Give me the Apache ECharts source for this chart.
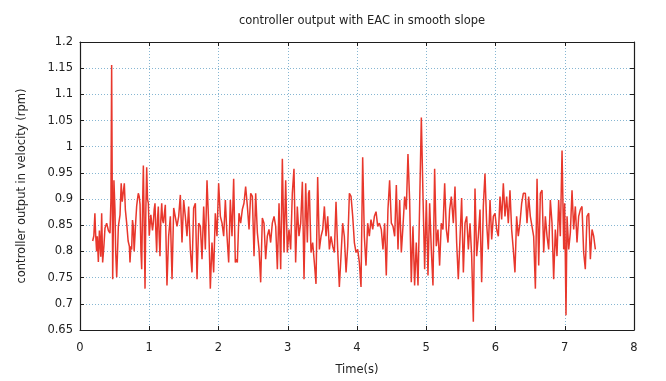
<!DOCTYPE html>
<html>
<head>
<meta charset="utf-8">
<script src="https://cdn.jsdelivr.net/npm/echarts@6/dist/echarts.min.js"></script>
<style>
  html, body { margin: 0; padding: 0; background: #fff; }
  #chart { width: 666px; height: 381px; }
</style>
</head>
<body>
<div id="chart"></div>
<script>
// sample times (s)
const times = [
  0.183, 0.200, 0.215, 0.225, 0.240, 0.250, 0.265, 0.280, 0.300, 0.313, 0.327, 0.345, 0.361, 0.385, 0.410, 0.433,
  0.447, 0.457, 0.472, 0.490, 0.505, 0.515, 0.530, 0.554, 0.578, 0.595, 0.610, 0.626, 0.640, 0.655, 0.674, 0.695,
  0.713, 0.722, 0.735, 0.746, 0.758, 0.770, 0.782, 0.794, 0.806, 0.818, 0.830, 0.842, 0.855, 0.867, 0.880, 0.891,
  0.903, 0.915, 0.927, 0.939, 0.951, 0.963, 0.975, 0.987, 1.000, 1.011, 1.023, 1.035, 1.047, 1.059, 1.071, 1.083,
  1.095, 1.107, 1.119, 1.131, 1.143, 1.155, 1.167, 1.180, 1.192, 1.204,
  1.232, 1.256, 1.280, 1.305, 1.329, 1.353, 1.377, 1.401, 1.425, 1.449, 1.473, 1.497, 1.521, 1.545, 1.569, 1.593,
  1.617, 1.641, 1.666, 1.690, 1.714, 1.738, 1.762, 1.786, 1.810, 1.834, 1.858, 1.882, 1.906, 1.930, 1.954, 1.978,
  2.002, 2.027, 2.051, 2.075, 2.099, 2.123, 2.147, 2.171, 2.195, 2.219, 2.243,
  2.255, 2.272, 2.296, 2.320, 2.344, 2.368, 2.392, 2.417, 2.441, 2.465, 2.489, 2.513, 2.537, 2.561, 2.585, 2.609,
  2.633, 2.657, 2.681, 2.705, 2.729, 2.753, 2.777, 2.802, 2.826, 2.850, 2.874, 2.898, 2.922, 2.946, 2.970, 2.994,
  3.018, 3.042, 3.066, 3.090, 3.114, 3.138, 3.162, 3.187, 3.211, 3.235, 3.259, 3.283,
  3.300, 3.312, 3.336, 3.360, 3.384, 3.408, 3.432, 3.457, 3.481, 3.505, 3.529, 3.553, 3.577, 3.601, 3.625, 3.649,
  3.673, 3.697, 3.721, 3.745, 3.769, 3.793, 3.817, 3.842, 3.866, 3.890, 3.914, 3.938, 3.962, 3.986, 4.010, 4.034,
  4.058, 4.082, 4.106, 4.130, 4.154, 4.178, 4.202, 4.227, 4.251, 4.275, 4.299, 4.323,
  4.351, 4.375, 4.399, 4.423, 4.447, 4.471, 4.496, 4.520, 4.544, 4.568, 4.592, 4.616, 4.640, 4.664, 4.688, 4.712,
  4.736, 4.760, 4.784, 4.808, 4.832, 4.856, 4.881, 4.905, 4.929, 4.953, 4.977, 5.001, 5.025, 5.049, 5.073, 5.097,
  5.121, 5.145, 5.169, 5.193, 5.217, 5.241, 5.266, 5.290, 5.314, 5.338, 5.362,
  5.391, 5.415, 5.439, 5.463, 5.487, 5.511, 5.536, 5.560, 5.584, 5.608, 5.632, 5.656, 5.680, 5.704, 5.728, 5.752,
  5.776, 5.800, 5.824, 5.848, 5.872, 5.896, 5.921, 5.945, 5.969, 5.993, 6.017, 6.041, 6.065, 6.089, 6.113, 6.137,
  6.161, 6.185, 6.209, 6.233, 6.257, 6.281, 6.305, 6.329, 6.353, 6.378, 6.402,
  6.431, 6.455, 6.479, 6.503, 6.527, 6.551, 6.576, 6.600, 6.624, 6.648, 6.672, 6.696, 6.720, 6.744, 6.768, 6.792,
  6.816, 6.840, 6.864, 6.888, 6.912, 6.936, 6.961, 6.985, 6.999, 7.018, 7.033, 7.057, 7.081, 7.105, 7.129, 7.153,
  7.177, 7.201, 7.225, 7.249, 7.273, 7.297, 7.321, 7.346, 7.370, 7.394, 7.418, 7.442
]

// controller output (rpm)
const output = [
  0.820, 0.830, 0.873, 0.835, 0.800, 0.829, 0.780, 0.840, 0.790, 0.873, 0.779, 0.810, 0.845, 0.854, 0.840, 0.835,
  0.900, 1.156, 0.747, 0.936, 0.880, 0.800, 0.751, 0.848, 0.870, 0.930, 0.895, 0.892, 0.930, 0.880, 0.854, 0.820,
  0.810, 0.779, 0.810, 0.804, 0.860, 0.848, 0.800, 0.798, 0.860, 0.886, 0.900, 0.911, 0.905, 0.890, 0.800, 0.766,
  0.880, 0.964, 0.850, 0.729, 0.880, 0.961, 0.900, 0.892, 0.830, 0.829, 0.870, 0.867, 0.840, 0.854, 0.880, 0.892,
  0.840, 0.798, 0.860, 0.886, 0.830, 0.791, 0.860, 0.892, 0.860, 0.854,
  0.889, 0.735, 0.829, 0.867, 0.747, 0.883, 0.880, 0.848, 0.867, 0.908, 0.817, 0.898, 0.867, 0.829, 0.886, 0.804,
  0.760, 0.883, 0.892, 0.747, 0.854, 0.848, 0.785, 0.886, 0.804, 0.936, 0.854, 0.729, 0.817, 0.760, 0.873, 0.829,
  0.930, 0.867, 0.854, 0.829, 0.898, 0.829, 0.779, 0.898, 0.829, 0.939, 0.779,
  0.785, 0.779, 0.873, 0.854, 0.880, 0.892, 0.924, 0.886, 0.842, 0.911, 0.905, 0.791, 0.911, 0.836, 0.804, 0.741,
  0.864, 0.854, 0.785, 0.829, 0.842, 0.817, 0.854, 0.867, 0.848, 0.766, 0.892, 0.766, 0.977, 0.798, 0.936, 0.798,
  0.842, 0.804, 0.911, 0.958, 0.779, 0.886, 0.829, 0.854, 0.933, 0.747, 0.930, 0.817,
  0.911, 0.917, 0.798, 0.817, 0.779, 0.738, 0.942, 0.804, 0.829, 0.842, 0.886, 0.829, 0.867, 0.804, 0.829, 0.810,
  0.798, 0.895, 0.804, 0.732, 0.791, 0.854, 0.829, 0.760, 0.810, 0.911, 0.905, 0.867, 0.817, 0.798, 0.804, 0.779,
  0.732, 0.980, 0.829, 0.773, 0.854, 0.829, 0.861, 0.842, 0.867, 0.876, 0.848, 0.854,
  0.842, 0.804, 0.854, 0.754, 0.880, 0.936, 0.854, 0.848, 0.829, 0.927, 0.804, 0.898, 0.798, 0.848, 0.905, 0.880,
  0.986, 0.898, 0.741, 0.848, 0.735, 0.817, 0.735, 0.892, 1.056, 0.905, 0.766, 0.898, 0.754, 0.892, 0.804, 0.735,
  0.958, 0.810, 0.842, 0.773, 0.854, 0.842, 0.930, 0.842, 0.817, 0.880, 0.905,
  0.854, 0.924, 0.817, 0.747, 0.823, 0.902, 0.760, 0.854, 0.867, 0.804, 0.854, 0.791, 0.666, 0.920, 0.791, 0.829,
  0.880, 0.741, 0.886, 0.949, 0.854, 0.804, 0.898, 0.823, 0.867, 0.873, 0.842, 0.829, 0.905, 0.861, 0.930, 0.867,
  0.905, 0.854, 0.917, 0.842, 0.804, 0.760, 0.867, 0.829, 0.854, 0.892, 0.911,
  0.911, 0.854, 0.905, 0.867, 0.848, 0.829, 0.729, 0.939, 0.773, 0.911, 0.917, 0.798, 0.867, 0.829, 0.804, 0.898,
  0.854, 0.747, 0.842, 0.791, 0.898, 0.829, 0.993, 0.804, 0.892, 0.678, 0.867, 0.804, 0.836, 0.917, 0.842, 0.886,
  0.817, 0.867, 0.880, 0.886, 0.798, 0.766, 0.867, 0.873, 0.785, 0.842, 0.829, 0.804
]

const xMin = 0, xMax = 8, xStep = 1
const yMin = 0.65, yMax = 1.2, yStep = 0.05

const FONT = 'DejaVu Sans'
const LINE_COLOR = '#e8372c'
const FRAME = '#1e1e1e'
const GRID_COLOR = '#86b6d2'

const chart = echarts.init(document.getElementById('chart'), null, { renderer: 'canvas' })

const pairs = times.map((t, i) => [t, output[i]])

const tickLabel = { fontFamily: FONT, fontSize: 11.5, color: '#222' }

chart.setOption({
  animation: false,
  backgroundColor: '#ffffff',
  title: {
    text: 'controller output with EAC in smooth slope',
    left: 357,
    top: 10,
    textAlign: 'center',
    textStyle: { fontFamily: FONT, fontSize: 11.5, fontWeight: 'normal', color: '#222' }
  },
  grid: { left: 80, right: 32, top: 42, bottom: 49 },
  xAxis: [
    {
      type: 'value',
      min: xMin, max: xMax, interval: xStep,
      name: 'Time(s)',
      nameLocation: 'middle',
      nameGap: 34,
      nameTextStyle: { fontFamily: FONT, fontSize: 11.5, color: '#222' },
      axisLine: { show: true, onZero: false, lineStyle: { color: FRAME, width: 1.2 } },
      axisTick: { show: true, inside: true, length: 4, lineStyle: { color: FRAME } },
      axisLabel: Object.assign({ margin: 12 }, tickLabel),
      splitLine: { show: true, lineStyle: { color: GRID_COLOR, type: [1, 2], width: 1 } }
    },
    {
      type: 'value',
      position: 'top',
      min: xMin, max: xMax, interval: xStep,
      axisLine: { show: true, onZero: false, lineStyle: { color: FRAME, width: 1.2 } },
      axisTick: { show: true, inside: true, length: 4, lineStyle: { color: FRAME } },
      axisLabel: { show: false },
      splitLine: { show: false }
    }
  ],
  yAxis: [
    {
      type: 'value',
      min: yMin, max: yMax, interval: yStep,
      name: 'controller output in velocity (rpm)',
      nameLocation: 'middle',
      nameGap: 52,
      nameTextStyle: { fontFamily: FONT, fontSize: 11.5, color: '#222' },
      axisLine: { show: true, onZero: false, lineStyle: { color: FRAME, width: 1.2 } },
      axisTick: { show: true, inside: true, length: 4, lineStyle: { color: FRAME } },
      axisLabel: Object.assign({ margin: 7, formatter: v => String(+v.toFixed(2)) }, tickLabel),
      splitLine: { show: true, lineStyle: { color: GRID_COLOR, type: [1, 2], width: 1 } }
    },
    {
      type: 'value',
      position: 'right',
      min: yMin, max: yMax, interval: yStep,
      axisLine: { show: true, onZero: false, lineStyle: { color: FRAME, width: 1.2 } },
      axisTick: { show: true, inside: true, length: 4, lineStyle: { color: FRAME } },
      axisLabel: { show: false },
      splitLine: { show: false }
    }
  ],
  series: [
    {
      type: 'line',
      data: pairs,
      showSymbol: false,
      symbol: 'none',
      lineStyle: { color: LINE_COLOR, width: 1.5 },
      z: 3
    }
  ]
})
</script>
</body>
</html>
